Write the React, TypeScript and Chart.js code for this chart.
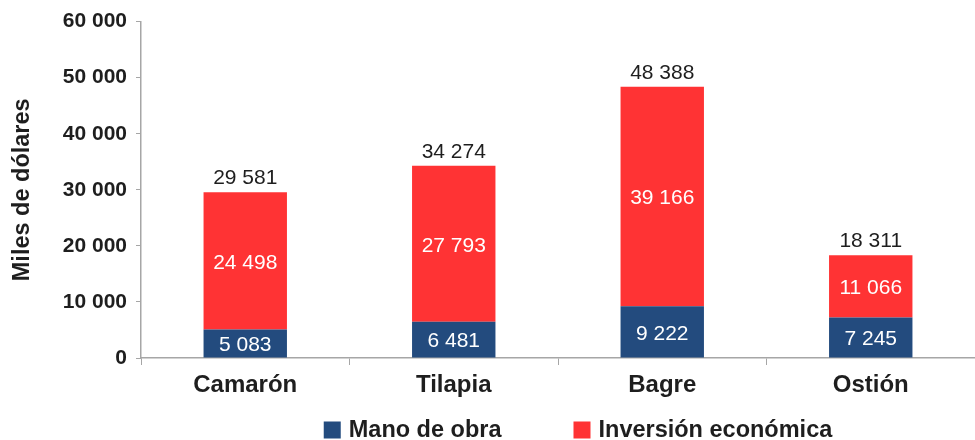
import React, { useEffect, useRef } from "react";
import { Chart, registerables } from "chart.js";

Chart.register(...registerables);

const categories = ["Camarón", "Tilapia", "Bagre", "Ostión"];
const manoDeObra = [5083, 6481, 9222, 7245];
const inversionEconomica = [24498, 27793, 39166, 11066];
const seriesNames = ["Mano de obra", "Inversión económica"];
const seriesColors = ["#234B7E", "#FF3334"];
const yMin = 0;
const yMax = 60000;
const yStep = 10000;
const yTitle = "Miles de dólares";

const FONT = "'Liberation Sans', Arial, sans-serif";
const TEXT = "#1E1E1E";
const AXIS = "#A6A6A6";

const fmt = (v: number) =>
  String(Math.round(v)).replace(/\B(?=(\d{3})+(?!\d))/g, " ");

const labelsPlugin = {
  id: "valueLabels",
  afterDatasetsDraw(chart: any) {
    const ctx = chart.ctx;
    ctx.save();
    ctx.font = `21px ${FONT}`;
    ctx.textAlign = "center";
    ctx.textBaseline = "middle";
    const n = chart.data.datasets.length;
    chart.data.datasets.forEach((ds: any, di: number) => {
      const meta = chart.getDatasetMeta(di);
      meta.data.forEach((el: any, i: number) => {
        const p = el.getProps(["x", "y", "base"], true);
        ctx.fillStyle = "#FFFFFF";
        ctx.fillText(fmt(ds.data[i]), p.x, (p.y + p.base) / 2 + 2);
      });
    });
    const lastMeta = chart.getDatasetMeta(n - 1);
    lastMeta.data.forEach((el: any, i: number) => {
      const p = el.getProps(["x", "y"], true);
      let total = 0;
      chart.data.datasets.forEach((ds: any) => (total += ds.data[i]));
      ctx.fillStyle = TEXT;
      ctx.fillText(fmt(total), p.x, p.y - 14);
    });
    ctx.restore();
  },
};

const legendPlugin = {
  id: "customLegend",
  afterDraw(chart: any) {
    const ctx = chart.ctx;
    const area = chart.chartArea;
    ctx.save();
    ctx.font = `bold 23.5px ${FONT}`;
    ctx.textBaseline = "middle";
    ctx.textAlign = "left";
    const box = 17;
    const gapText = 8;
    const gapItems = 72;
    const items = chart.data.datasets.map((ds: any) => ({
      label: ds.label,
      color: ds.backgroundColor,
      w: ctx.measureText(ds.label).width,
    }));
    let total = 0;
    items.forEach((it: any, i: number) => {
      total += box + gapText + it.w + (i < items.length - 1 ? gapItems : 0);
    });
    let x = (area.left + area.right) / 2 + 20 - total / 2;
    const cy = 430;
    items.forEach((it: any) => {
      ctx.fillStyle = it.color;
      ctx.fillRect(x, cy - box / 2, box, box);
      x += box + gapText;
      ctx.fillStyle = TEXT;
      ctx.fillText(it.label, x, cy + 1);
      x += it.w + gapItems;
    });
    ctx.restore();
  },
};

export default function App() {
  const ref = useRef<HTMLCanvasElement | null>(null);

  useEffect(() => {
    if (!ref.current) return;
    const chart = new Chart(ref.current, {
      type: "bar",
      data: {
        labels: categories,
        datasets: [
          {
            label: seriesNames[0],
            data: manoDeObra,
            backgroundColor: seriesColors[0],
            barPercentage: 0.4,
            categoryPercentage: 1,
          },
          {
            label: seriesNames[1],
            data: inversionEconomica,
            backgroundColor: seriesColors[1],
            barPercentage: 0.4,
            categoryPercentage: 1,
          },
        ],
      },
      options: {
        responsive: false,
        animation: false,
        layout: { padding: { top: 21, left: 0, right: 0, bottom: 0 } },
        plugins: {
          legend: { display: false },
          tooltip: { enabled: false },
        },
        scales: {
          x: {
            stacked: true,
            grid: {
              display: true,
              drawOnChartArea: false,
              offset: true,
              tickLength: 7,
              color: AXIS,
            },
            border: { color: AXIS, width: 1.5 },
            ticks: {
              font: { family: FONT, size: 24, weight: "bold" },
              color: TEXT,
              padding: 6,
            },
            afterFit: (scale: any) => {
              scale.height = 82;
            },
          },
          y: {
            stacked: true,
            min: yMin,
            max: yMax,
            grid: {
              display: true,
              drawOnChartArea: false,
              tickLength: 5,
              color: AXIS,
            },
            border: { color: AXIS, width: 1.5 },
            ticks: {
              stepSize: yStep,
              callback: (v: any) => fmt(Number(v)),
              font: { family: FONT, size: 21, weight: "bold" },
              color: TEXT,
              padding: 9,
            },
            title: {
              display: true,
              text: yTitle,
              font: { family: FONT, size: 23.5, weight: "bold" },
              color: TEXT,
              padding: { top: 8, bottom: 4 },
            },
            afterFit: (scale: any) => {
              scale.width = 141;
            },
          },
        },
      },
      plugins: [labelsPlugin, legendPlugin],
    });
    return () => chart.destroy();
  }, []);

  return (
    <div style={{ position: "absolute", left: 0, top: 0, width: 975, height: 440, background: "#fff" }}>
      <canvas ref={ref} width={975} height={440} />
    </div>
  );
}
